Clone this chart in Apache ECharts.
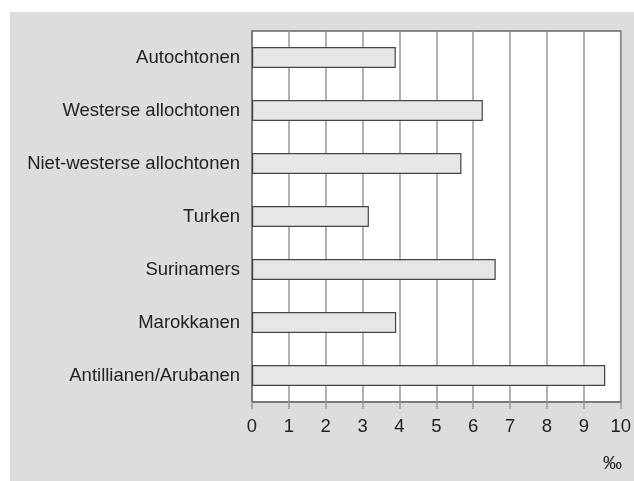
<!DOCTYPE html>
<html><head><meta charset="utf-8">
<script src="https://cdn.jsdelivr.net/npm/echarts@6/dist/echarts.min.js"></script>
<style>html,body{margin:0;padding:0;background:#fff}#c{width:634px;height:481px}</style>
</head><body><div id="c"></div>
<script>
const categories = ['Autochtonen','Westerse allochtonen','Niet-westerse allochtonen','Turken','Surinamers','Marokkanen','Antillianen/Arubanen'];
const values = [3.9, 6.26, 5.68, 3.17, 6.61, 3.91, 9.58];
const xTicks = [0,1,2,3,4,5,6,7,8,9,10];
const unitLabel = '‰';

const chart = echarts.init(document.getElementById('c'), null, {renderer:'canvas'});
chart.setOption({
  animation:false,
  backgroundColor:'#ffffff',
  graphic:[
    {type:'rect', z:-10, shape:{x:10,y:12,width:624,height:469}, style:{fill:'#dcdddf'}},
    {type:'text', left:603, top:454, style:{text:unitLabel, fontSize:19, fill:'#222', fontFamily:'Liberation Sans, Arial'}}
  ],
  grid:{left:252, top:31, width:370, height:371, containLabel:false, show:true, backgroundColor:'#ffffff', borderColor:'#666', borderWidth:1.5},
  xAxis:{
    type:'value', min:xTicks[0], max:xTicks[xTicks.length-1], interval:1,
    axisLine:{show:true, lineStyle:{color:'#777', width:1.5}},
    axisTick:{show:true, length:7, lineStyle:{color:'#999', width:1.5}},
    axisLabel:{color:'#222', fontSize:18.5, margin:15, fontFamily:'Liberation Sans, Arial'},
    splitLine:{show:true, lineStyle:{color:'#999', width:1.5}}
  },
  yAxis:{
    type:'category', data:categories, inverse:true,
    axisLine:{show:true, lineStyle:{color:'#777', width:1.5}},
    axisTick:{show:false},
    axisLabel:{color:'#222', fontSize:18.5, margin:12, fontFamily:'Liberation Sans, Arial'},
    splitLine:{show:false}
  },
  series:[{
    type:'bar', data:values, barWidth:21,
    itemStyle:{color:'#e6e7e9', borderColor:'#444', borderWidth:1.2},
    z:3
  }]
});
</script></body></html>
